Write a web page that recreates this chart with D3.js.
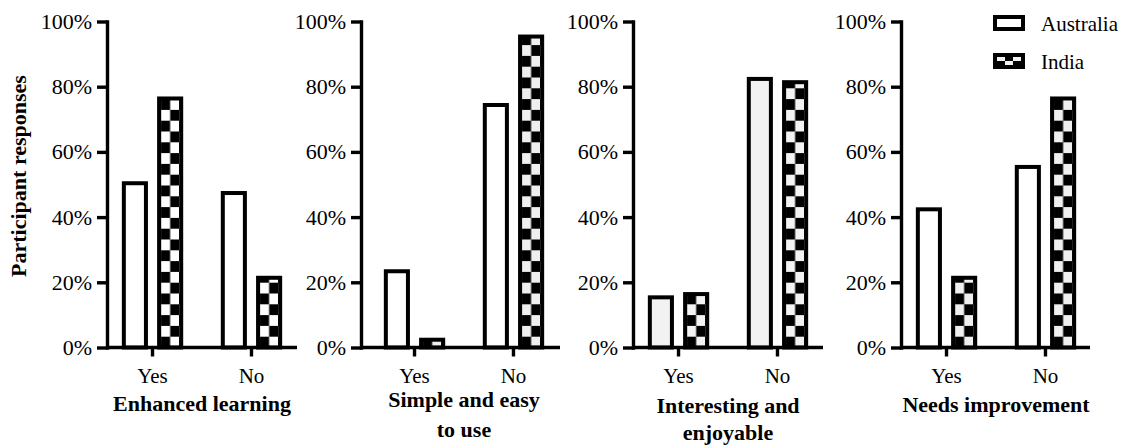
<!DOCTYPE html>
<html>
<head>
<meta charset="utf-8">
<script src="https://cdn.jsdelivr.net/npm/d3@7"></script>
<style>
  body { margin: 0; background: #fff; }
  svg { display: block; }
  svg text { font-family: "Liberation Serif", "Times New Roman", Times, "DejaVu Serif", serif; fill: #000; }
  .tick-y { font-size: 22px; }
  .tick-x { font-size: 21px; }
  .title { font-size: 22px; font-weight: bold; }
  .legend-text { font-size: 21px; }
</style>
</head>
<body>
<div id="chart"></div>
<script>
// data (percent of participants)
const categories = ['Yes', 'No'];
const series = ['Australia', 'India'];
const panelTitles = [
  ['Enhanced learning'],
  ['Simple and easy', 'to use'],
  ['Interesting and', 'enjoyable'],
  ['Needs improvement']
];
const australiaValues = [[51, 48], [24, 75], [16, 83], [43, 56]];
const indiaValues = [[77, 22], [3, 96], [17, 82], [22, 77]];
const yTicks = [0, 20, 40, 60, 80, 100];
const yLabel = 'Participant responses';

// layout
const W = 1124, H = 446;
const panelLeft = [107, 361, 633, 901];
const panelWidth = [190, 199, 190, 189];
const bandShift = [0, 8, 0, 0];
const bandSpan = 190;
const yTop = 21.5, yBottom = 347.5;
const BAR_SW = 4, AXIS_SW = 3.4;
const titleBaseline = [[411], [407, 437], [413, 440], [412]];
const australiaFill = ['#fff', '#fff', '#f2f2f2', '#fff'];
const checkerLight = ['#fff', '#efefef', '#f3f3f3', '#f0f0f0'];

const svg = d3.select('#chart').append('svg')
    .attr('width', W)
    .attr('height', H);
const defs = svg.append('defs');

const y = d3.scaleLinear().domain([0, 100]).range([yBottom, yTop]);

// black tile with two light squares -> checkerboard
function checker(id, x0, y0, cw, ch, light) {
  const p = defs.append('pattern')
      .attr('id', id)
      .attr('patternUnits', 'userSpaceOnUse')
      .attr('x', x0).attr('y', y0)
      .attr('width', cw * 2).attr('height', ch * 2);
  p.append('rect').attr('width', cw * 2).attr('height', ch * 2).attr('fill', '#000');
  p.append('rect').attr('x', 0).attr('y', 0).attr('width', cw).attr('height', ch).attr('fill', light);
  p.append('rect').attr('x', cw).attr('y', ch).attr('width', cw).attr('height', ch).attr('fill', light);
  return 'url(#' + id + ')';
}

panelTitles.forEach((title, i) => {
  const g = svg.append('g').attr('transform', `translate(${panelLeft[i]},0)`);

  const x0 = d3.scaleBand()
      .domain(categories)
      .range([bandShift[i], bandShift[i] + bandSpan])
      .paddingInner(0.38)
      .paddingOuter(0.15);
  const x1 = d3.scaleBand()
      .domain(series)
      .range([0, x0.bandwidth()])
      .paddingInner(0.26);

  const rows = categories.map((c, j) => ({
    cat: c,
    values: [
      {s: 'Australia', v: australiaValues[i][j]},
      {s: 'India', v: indiaValues[i][j]}
    ]
  }));

  const groups = g.selectAll('g.grp').data(rows).join('g')
      .attr('class', 'grp')
      .attr('transform', d => `translate(${x0(d.cat)},0)`);

  const h = BAR_SW / 2;
  groups.selectAll('rect').data(d => d.values.map(e => Object.assign({cat: d.cat}, e))).join('rect')
      .attr('x', d => x1(d.s) + h)
      .attr('y', d => y(d.v) + h)
      .attr('width', x1.bandwidth() - BAR_SW)
      .attr('height', d => Math.max(0, yBottom - y(d.v) - h))
      .attr('stroke', '#000')
      .attr('stroke-width', BAR_SW)
      .attr('fill', d => {
        if (d.s === 'Australia') return australiaFill[i];
        return checker(`chk-${i}-${d.cat}`, x1(d.s) + BAR_SW, yBottom,
          (x1.bandwidth() - 2 * BAR_SW) / 2, 10.8, checkerLight[i]);
      });

  // y axis
  const ya = g.append('g')
      .call(d3.axisLeft(y).tickValues(yTicks).tickFormat(d => d + '%')
        .tickSize(10).tickSizeOuter(0).tickPadding(5));
  ya.attr('font-family', null).attr('font-size', null);
  ya.selectAll('path, line').attr('stroke', '#000').attr('stroke-width', AXIS_SW);
  ya.select('path').attr('stroke-linecap', 'square');
  ya.selectAll('text').attr('class', 'tick-y').attr('fill', null);

  // x axis
  const xa = g.append('g').attr('transform', `translate(0,${yBottom})`)
      .call(d3.axisBottom(x0).tickSize(9).tickSizeOuter(0).tickPadding(12));
  xa.attr('font-family', null).attr('font-size', null);
  xa.select('path').remove();
  xa.selectAll('line').attr('stroke', '#000').attr('stroke-width', AXIS_SW);
  xa.selectAll('text').attr('class', 'tick-x').attr('fill', null);
  g.append('line')
      .attr('x1', 0).attr('x2', panelWidth[i])
      .attr('y1', yBottom).attr('y2', yBottom)
      .attr('stroke', '#000').attr('stroke-width', AXIS_SW);

  // panel title
  const cx = bandShift[i] + bandSpan / 2;
  title.forEach((t, k) => {
    g.append('text')
        .attr('class', 'title')
        .attr('x', cx).attr('y', titleBaseline[i][k])
        .attr('text-anchor', 'middle')
        .text(t);
  });
});

// y axis label
svg.append('text')
    .attr('class', 'title')
    .attr('transform', 'translate(26,176) rotate(-90)')
    .attr('text-anchor', 'middle')
    .text(yLabel);

// legend
const legend = svg.append('g').attr('transform', 'translate(993,15)');
series.forEach((s, k) => {
  const row = legend.append('g').attr('transform', `translate(0,${k * 38})`);
  row.append('rect')
      .attr('x', 2).attr('y', 2).attr('width', 28).attr('height', 12)
      .attr('stroke', '#000').attr('stroke-width', BAR_SW)
      .attr('fill', k === 0 ? '#fff' : checker('chk-legend', 4, 4, 8, 4, '#f2f2f2'));
  row.append('text')
      .attr('class', 'legend-text')
      .attr('x', 48).attr('y', 16)
      .text(s);
});
</script>
</body>
</html>
